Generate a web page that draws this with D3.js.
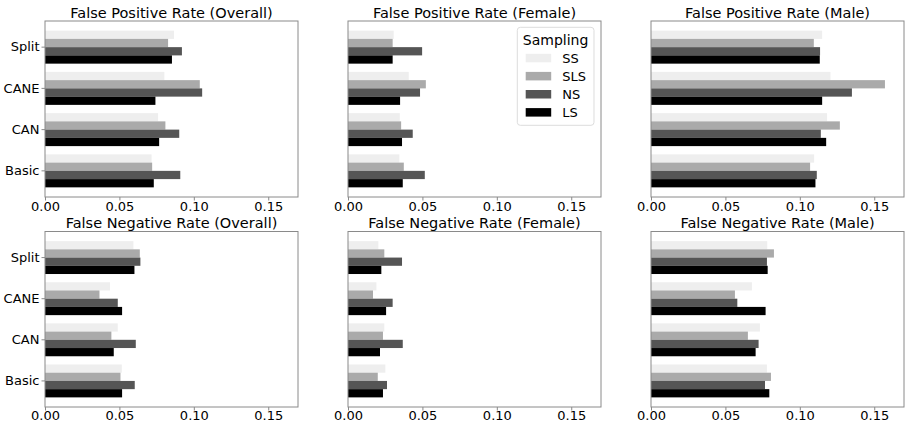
<!DOCTYPE html>
<html>
<head>
<meta charset="utf-8">
<title>False Positive / Negative Rates</title>
<script src="https://d3js.org/d3.v7.min.js"></script>
<style>
  body { margin: 0; background: #fff; }
  text { font-family: "DejaVu Sans", sans-serif; fill: #000; }
</style>
</head>
<body>
<svg width="907" height="425"></svg>
<script>
// categories (top to bottom) and sampling series
const categories = ["Split", "CANE", "CAN", "Basic"];
const series = ["SS", "SLS", "NS", "LS"];
const colors = ["#eeeeee", "#aaaaaa", "#555555", "#000000"];
const xTicks = [0, 0.05, 0.1, 0.15];

// values per panel: rows follow categories, columns follow series
const fpOverall = [[0.0867, 0.0827, 0.0920, 0.0853],
                   [0.0802, 0.1040, 0.1056, 0.0742],
                   [0.0760, 0.0809, 0.0902, 0.0767],
                   [0.0716, 0.0720, 0.0909, 0.0731]];
const fpFemale = [[0.0307, 0.0300, 0.0498, 0.0300],
                  [0.0408, 0.0523, 0.0484, 0.0350],
                  [0.0348, 0.0357, 0.0435, 0.0363],
                  [0.0345, 0.0375, 0.0516, 0.0368]];
const fpMale = [[0.1150, 0.1094, 0.1136, 0.1134],
                [0.1206, 0.1572, 0.1350, 0.1150],
                [0.1183, 0.1269, 0.1141, 0.1177],
                [0.1096, 0.1069, 0.1114, 0.1105]];
const fnOverall = [[0.0594, 0.0637, 0.0641, 0.0601],
                   [0.0437, 0.0366, 0.0489, 0.0518],
                   [0.0489, 0.0446, 0.0610, 0.0462],
                   [0.0516, 0.0507, 0.0603, 0.0518]];
const fnFemale = [[0.0204, 0.0244, 0.0363, 0.0224],
                  [0.0191, 0.0168, 0.0300, 0.0256],
                  [0.0244, 0.0235, 0.0368, 0.0215],
                  [0.0251, 0.0200, 0.0262, 0.0235]];
const fnMale = [[0.0781, 0.0826, 0.0779, 0.0784],
                [0.0678, 0.0564, 0.0580, 0.0770],
                [0.0732, 0.0651, 0.0723, 0.0703],
                [0.0779, 0.0806, 0.0766, 0.0795]];

const panels = [
  { title: "False Positive Rate (Overall)", values: fpOverall, col: 0, row: 0, yLabels: true },
  { title: "False Positive Rate (Female)", values: fpFemale, col: 1, row: 0, legend: true },
  { title: "False Positive Rate (Male)", values: fpMale, col: 2, row: 0 },
  { title: "False Negative Rate (Overall)", values: fnOverall, col: 0, row: 1, yLabels: true },
  { title: "False Negative Rate (Female)", values: fnFemale, col: 1, row: 1 },
  { title: "False Negative Rate (Male)", values: fnMale, col: 2, row: 1 }
];

const colX = [45, 348, 651];
const rowY = [[21, 197], [231.5, 407]];
const axW = 253;

const svg = d3.select("svg");

const x = d3.scaleLinear().domain([0, 0.17]).range([0, axW]);

panels.forEach(p => {
  const [top, bottom] = rowY[p.row];
  const g = svg.append("g").attr("transform", `translate(${colX[p.col]},${top})`);
  const h = bottom - top;

  const y = d3.scaleBand().domain(categories).range([0, h])
    .paddingInner(0.2).paddingOuter(0.234);
  const ySub = d3.scaleBand().domain(series).range([0, y.bandwidth()]);

  // bars
  const grp = g.selectAll(".grp")
    .data(p.values)
    .enter()
    .append("g")
    .attr("transform", (d, i) => `translate(0,${y(categories[i])})`);
  grp.selectAll("rect")
    .data(d => d)
    .enter()
    .append("rect")
    .attr("x", 0)
    .attr("y", (d, j) => ySub(series[j]))
    .attr("width", d => x(d))
    .attr("height", ySub.bandwidth())
    .attr("fill", (d, j) => colors[j]);

  // frame
  g.append("rect")
    .attr("x", 0).attr("y", 0)
    .attr("width", axW).attr("height", h)
    .attr("fill", "none")
    .attr("stroke", "#8a8a8a")
    .attr("stroke-width", 1);

  // x axis
  const xa = g.append("g")
    .attr("transform", `translate(0,${h})`)
    .call(d3.axisBottom(x).tickValues(xTicks).tickFormat(d3.format(".2f")).tickSizeOuter(0).tickSize(3.5));
  xa.select(".domain").remove();
  xa.selectAll("line").attr("stroke", "#8a8a8a");
  xa.selectAll("text").attr("font-size", 13).attr("dy", null).attr("y", p.row === 0 ? 14 : 13);

  // y axis
  const ya = g.append("g")
    .call(d3.axisLeft(y).tickSize(3.5).tickSizeOuter(0)
      .tickFormat(p.yLabels ? (d => d) : (() => "")));
  ya.select(".domain").remove();
  ya.selectAll("line").attr("stroke", p.yLabels ? "#8a8a8a" : "none");
  ya.selectAll("text").attr("font-size", 13).attr("x", -5.5);

  // title
  g.append("text")
    .attr("x", axW / 2).attr("y", -3.5)
    .attr("text-anchor", "middle")
    .attr("font-size", 14.5)
    .text(p.title);

  if (p.legend) {
    const lg = g.append("g").attr("transform", `translate(${517.3 - colX[p.col]},${27.3 - top})`);
    lg.append("rect")
      .attr("x", 0).attr("y", 0).attr("width", 76.7).attr("height", 98)
      .attr("rx", 3)
      .attr("fill", "#fff").attr("fill-opacity", 0.8)
      .attr("stroke", "#dddddd");
    lg.append("text")
      .attr("x", 38.3).attr("y", 18)
      .attr("text-anchor", "middle")
      .attr("font-size", 14)
      .text("Sampling");
    const items = lg.selectAll(".item")
      .data(series)
      .enter()
      .append("g")
      .attr("transform", (d, i) => `translate(8.4,${26.5 + i * 18.1})`);
    items.append("rect")
      .attr("width", 25.5).attr("height", 8.5)
      .attr("fill", (d, i) => colors[i]);
    items.append("text")
      .attr("x", 36.6).attr("y", 4.3).attr("dy", "0.36em")
      .attr("font-size", 13)
      .text(d => d);
  }
});
</script>
</body>
</html>
